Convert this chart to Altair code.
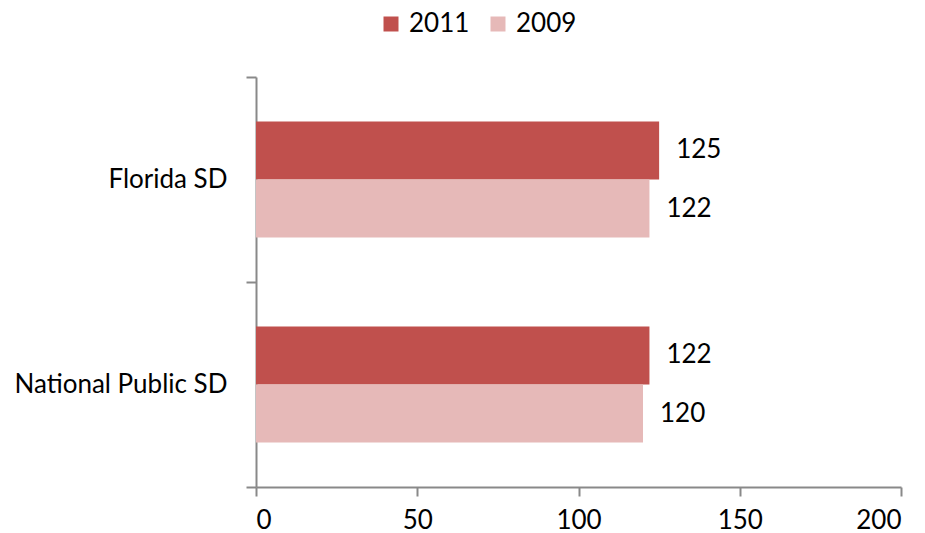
import altair as alt
import pandas as pd

categories = ["Florida SD", "National Public SD"]
series = ["2011", "2009"]
values_2011 = [125, 122]
values_2009 = [122, 120]
colors = ["#C0504D", "#E6B9B8"]

rows = []
for i, c in enumerate(categories):
    rows.append({"cat": c, "year": "2011", "val": values_2011[i]})
    rows.append({"cat": c, "year": "2009", "val": values_2009[i]})
df = pd.DataFrame(rows)

FONT = "Lato"
FS = 26

y_enc = alt.Y("cat:N", sort=categories, title=None,
              scale=alt.Scale(paddingInner=0, paddingOuter=0),
              axis=alt.Axis(tickBand="extent", tickSize=10, tickColor="#898989",
                            domainColor="#898989", domainWidth=2, tickWidth=2,
                            labelFontSize=FS, labelFont=FONT, labelColor="#000000",
                            labelPadding=19, labelAlign="right", labelLimit=0))
yoff = alt.YOffset("year:N", sort=series,
                   scale=alt.Scale(paddingInner=0, paddingOuter=0.767))

bars = alt.Chart(df).mark_bar().encode(
    x=alt.X("val:Q", title=None,
            scale=alt.Scale(domain=[0, 200], nice=False),
            axis=alt.Axis(values=[0, 50, 100, 150, 200], grid=False, tickSize=9,
                          tickColor="#898989", domainColor="#898989", domainWidth=2,
                          tickWidth=2, labelFontSize=FS, labelFont=FONT,
                          labelColor="#000000", labelPadding=11)),
    y=y_enc,
    yOffset=yoff,
    color=alt.Color("year:N", sort=series,
                    scale=alt.Scale(domain=series, range=colors),
                    legend=alt.Legend(title=None, orient="none", direction="horizontal",
                                      legendX=122, legendY=-66, symbolType="square",
                                      symbolSize=225, symbolStrokeWidth=0,
                                      labelFontSize=FS, labelFont=FONT,
                                      labelColor="#000000", columnPadding=15,
                                      labelOffset=5)),
)

labels = alt.Chart(df).mark_text(align="left", baseline="middle", dx=17,
                                 fontSize=FS, font=FONT, color="#000000").encode(
    x="val:Q",
    y=alt.Y("cat:N", sort=categories),
    yOffset=yoff,
    text="val:Q",
)

chart = (bars + labels).properties(
    width=645, height=410,
    autosize=alt.AutoSizeParams(type="none"),
    padding={"left": 248, "top": 69, "right": 16, "bottom": 46},
).configure_view(stroke=None)

chart.save("out.html", embed_options={"renderer": "svg", "actions": False})
